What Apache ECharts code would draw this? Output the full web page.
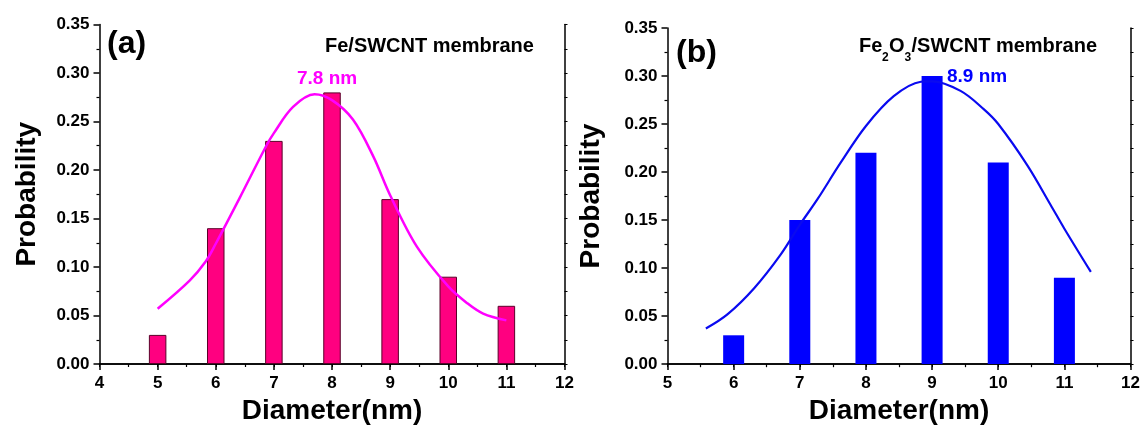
<!DOCTYPE html>
<html>
<head>
<meta charset="utf-8">
<script src="https://cdn.jsdelivr.net/npm/echarts@6/dist/echarts.min.js"></script>
<style>
	html, body { margin: 0; padding: 0; background: #fff; }
	#main { width: 1143px; height: 430px; }
</style>
</head>
<body>
<div id="main"></div>
<script>
	'use strict';
	// (a) Fe/SWCNT membrane
	var diamA = [5, 6, 7, 8, 9, 10, 11];
	var probA = [0.03, 0.14, 0.23, 0.28, 0.17, 0.09, 0.06];
	var fitXA = [5.0, 5.55, 5.83, 6.0, 6.41, 6.87, 7.0, 7.33, 7.7, 8.0, 8.36, 8.71, 9.0, 9.46, 10.0, 10.32, 10.6, 11.0];
	var fitYA = [0.057, 0.086, 0.106, 0.124, 0.171, 0.225, 0.238, 0.265, 0.278, 0.272, 0.252, 0.214, 0.174, 0.121, 0.080, 0.063, 0.052, 0.045];
	// (b) Fe2O3/SWCNT membrane
	var diamB = [6, 7, 8, 9, 10, 11];
	var probB = [0.03, 0.15, 0.22, 0.30, 0.21, 0.09];
	var fitXB = [5.58, 5.91, 6.31, 6.71, 7.0, 7.27, 7.62, 8.0, 8.42, 8.83, 9.0, 9.43, 9.78, 10.0, 10.44, 10.79, 11.0, 11.4];
	var fitYB = [0.037, 0.052, 0.079, 0.114, 0.145, 0.172, 0.210, 0.248, 0.279, 0.294, 0.2945, 0.2845, 0.2655, 0.250, 0.207, 0.166, 0.141, 0.096];

	var FONT = 'Arial, "Liberation Sans", sans-serif';

	function pairs(xs, ys) {
		var list = [];
		for (var i = 0; i < xs.length; i++) {
			list.push([xs[i], ys[i]]);
		}
		return list;
	}

	var lineStyle = { color: '#000', width: 1.5 };

	function bottomX(grid, min) {
		return {
			type: 'value', gridIndex: grid, min: min, max: 12, interval: 1,
			name: 'Diameter(nm)', nameLocation: 'middle', nameGap: 32,
			nameTextStyle: { fontSize: 28, fontWeight: 'bold', fontFamily: FONT, color: '#000' },
			axisLine: { lineStyle: lineStyle },
			axisTick: { length: 6, lineStyle: lineStyle },
			minorTick: { show: true, splitNumber: 2, length: 3, lineStyle: { color: '#000', width: 1.2 } },
			axisLabel: { margin: 11, fontSize: 17, fontWeight: 'bold', fontFamily: FONT, color: '#000' },
			splitLine: { show: false }
		};
	}
	function topX(grid, min) {
		return {
			type: 'value', gridIndex: grid, position: 'top', min: min, max: 12, interval: 1,
			axisLine: { lineStyle: lineStyle },
			axisTick: { inside: true, length: 3, lineStyle: { color: '#000', width: 1 } },
			minorTick: { show: true, splitNumber: 2, length: 3, lineStyle: { color: '#000', width: 1 } },
			axisLabel: { show: false },
			splitLine: { show: false }
		};
	}
	function leftY(grid, gap) {
		return {
			type: 'value', gridIndex: grid, min: 0, max: 0.35, interval: 0.05,
			name: 'Probability', nameLocation: 'middle', nameGap: gap,
			nameTextStyle: { fontSize: 28, fontWeight: 'bold', fontFamily: FONT, color: '#000' },
			axisLine: { show: true, lineStyle: lineStyle },
			axisTick: { show: true, length: 6, lineStyle: lineStyle },
			minorTick: { show: true, splitNumber: 2, length: 3, lineStyle: { color: '#000', width: 1.2 } },
			axisLabel: {
				margin: 10, fontSize: 17, fontWeight: 'bold', fontFamily: FONT, color: '#000',
				formatter: function (v) { return v.toFixed(2); }
			},
			splitLine: { show: false }
		};
	}
	function rightY(grid) {
		return {
			type: 'value', gridIndex: grid, position: 'right', min: 0, max: 0.35, interval: 0.05,
			axisLine: { show: true, lineStyle: lineStyle },
			axisTick: { show: true, length: 3, lineStyle: { color: '#000', width: 1 } },
			minorTick: { show: true, splitNumber: 2, length: 3, lineStyle: { color: '#000', width: 1 } },
			axisLabel: { show: false },
			splitLine: { show: false }
		};
	}

	function label(text, x, y, size, color) {
		return {
			type: 'text', x: x, y: y, z: 10,
			style: {
				text: text, fill: color, textAlign: 'left', textVerticalAlign: 'middle',
				font: 'bold ' + size + 'px ' + FONT
			}
		};
	}

	var option = {
		animation: false,
		backgroundColor: '#fff',
		grid: [
			{ left: 99.5, top: 24.5, width: 465, height: 339.5 },
			{ left: 667.5, top: 28, width: 464.5, height: 339 }
		],
		xAxis: [bottomX(0, 4), topX(0, 4), bottomX(1, 5), topX(1, 5)],
		yAxis: [leftY(0, 58), rightY(0), leftY(1, 62), rightY(1)],
		graphic: [
			label('(a)', 107, 44, 32, '#000'),
			label('Fe/SWCNT membrane', 325, 46, 20, '#000'),
			label('7.8 nm', 297, 79, 19, '#ff00ff'),
			label('(b)', 676, 53, 32, '#000'),
			// Fe2O3 with subscripts, set piece by piece
			label('Fe', 859, 46.5, 20, '#000'),
			label('2', 882, 58, 12, '#000'),
			label('O', 889, 46.5, 20, '#000'),
			label('3', 904.5, 58, 12, '#000'),
			label('/SWCNT membrane', 911.5, 46.5, 20, '#000'),
			label('8.9 nm', 947, 76.5, 19, '#0000ff')
		],
		series: [
			{
				type: 'bar', xAxisIndex: 0, yAxisIndex: 0, barWidth: 17.5,
				itemStyle: { color: '#ff0080', borderColor: '#5a0028', borderWidth: 1 },
				data: pairs(diamA, probA)
			},
			{
				type: 'line', xAxisIndex: 0, yAxisIndex: 0, smooth: 0.35,
				showSymbol: false, z: 5,
				lineStyle: { color: '#ff00ff', width: 2.5 },
				data: pairs(fitXA, fitYA)
			},
			{
				type: 'bar', xAxisIndex: 2, yAxisIndex: 2, barWidth: 21,
				itemStyle: { color: '#0000ff' },
				data: pairs(diamB, probB)
			},
			{
				type: 'line', xAxisIndex: 2, yAxisIndex: 2, smooth: 0.35,
				showSymbol: false, z: 5,
				lineStyle: { color: '#0a0af0', width: 2.2 },
				data: pairs(fitXB, fitYB)
			}
		]
	};

	var chart = echarts.init(document.getElementById('main'));
	chart.setOption(option);
</script>
</body>
</html>
